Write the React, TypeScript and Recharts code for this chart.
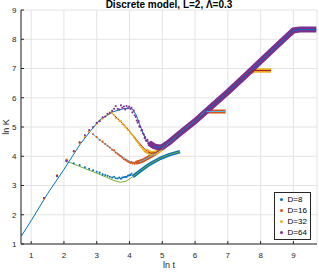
import { ComposedChart, Line, XAxis, YAxis, CartesianGrid, Legend } from "recharts";

const AXIS = "#262626";
const GRID = "#e3e3e3";
const FONT = "'Liberation Sans', Arial, sans-serif";

// matlab default colour order
const C_BLUE = "#0072BD";
const C_ORANGE = "#D95319";
const C_YELLOW = "#EDB120";
const C_PURPLE = "#7E2F8E";
const C_GREEN = "#77AC30";
const C_CYAN = "#4DBEEE";
const C_RED = "#A2142F";

const xTicks = [1, 2, 3, 4, 5, 6, 7, 8, 9];
const yTicks = [1, 2, 3, 4, 5, 6, 7, 8, 9];

// smooth curves, [ln t, ln K]
const fit8: [number, number][] = [
  [2.04, 3.82], [2.2, 3.78], [2.44, 3.67], [2.75, 3.53], [3.0, 3.42], [3.3, 3.28], [3.5, 3.18],
  [3.72, 3.11], [3.9, 3.15], [4.1, 3.3], [4.33, 3.5], [4.6, 3.72], [4.94, 3.93], [5.2, 4.05], [5.54, 4.16],
];
const fit16: [number, number][] = [
  [2.85, 4.79], [3.1, 4.55], [3.3, 4.38], [3.5, 4.22], [3.7, 4.05], [3.9, 3.9], [4.05, 3.8], [4.2, 3.77],
  [4.4, 3.85], [4.63, 3.99], [4.8, 4.1], [5.0, 4.27], [5.2, 4.45], [5.5, 4.75], [5.8, 5.03], [6.0, 5.2],
  [6.1, 5.3], [6.2, 5.42], [6.3, 5.52], [6.4, 5.53], [6.93, 5.53],
];
const fit32: [number, number][] = [
  [3.46, 5.48], [3.7, 5.22], [3.9, 5.0], [4.1, 4.72], [4.3, 4.45], [4.5, 4.2], [4.65, 4.1], [4.8, 4.12],
  [5.0, 4.28], [5.2, 4.47], [5.5, 4.75], [6.0, 5.2], [6.5, 5.7], [7.0, 6.2], [7.5, 6.72], [7.65, 6.86],
  [7.8, 6.93], [8.32, 6.93],
];
const fit64: [number, number][] = [
  [0.69, 1.25], [1.0, 1.8], [1.5, 2.72], [2.0, 3.55], [2.5, 4.42], [2.8, 4.85], [3.1, 5.25], [3.5, 5.52],
  [3.8, 5.62], [4.0, 5.65], [4.1, 5.6], [4.2, 5.42], [4.3, 5.12], [4.4, 4.82], [4.5, 4.58], [4.6, 4.45],
  [4.75, 4.34], [4.9, 4.3], [5.0, 4.32], [5.2, 4.47], [5.5, 4.75], [6.0, 5.2], [6.5, 5.7], [7.0, 6.2],
  [7.5, 6.72], [8.0, 7.25], [8.5, 7.78], [8.9, 8.2], [9.0, 8.3], [9.2, 8.33], [9.7, 8.33],
];

// individual samples where they are still apart
const pts8: [number, number][] = [
  [0.69, 1.3], [1.39, 2.55], [1.79, 3.32], [2.08, 3.85], [2.3, 3.76], [2.48, 3.7], [2.64, 3.62], [2.77, 3.57],
  [2.89, 3.52], [3.0, 3.47], [3.09, 3.44], [3.18, 3.38], [3.26, 3.36], [3.33, 3.33], [3.4, 3.3], [3.47, 3.27],
  [3.53, 3.3], [3.58, 3.25], [3.64, 3.24], [3.69, 3.27], [3.74, 3.23], [3.78, 3.27], [3.83, 3.28], [3.87, 3.3],
  [3.91, 3.29], [3.95, 3.33], [3.99, 3.35], [4.03, 3.36], [4.06, 3.4],
];
const pts16: [number, number][] = [
  [0.69, 1.32], [1.39, 2.55], [1.79, 3.34], [2.08, 3.88], [2.3, 4.16], [2.48, 4.48], [2.64, 4.66], [2.77, 4.84],
  [2.89, 4.75], [3.0, 4.66], [3.09, 4.56], [3.18, 4.5], [3.26, 4.42], [3.33, 4.36], [3.4, 4.3], [3.47, 4.22],
  [3.53, 4.2], [3.58, 4.12], [3.64, 4.08], [3.69, 4.03], [3.74, 4.0], [3.78, 3.95], [3.83, 3.9], [3.87, 3.88],
  [3.91, 3.85], [3.95, 3.82], [3.99, 3.8], [4.03, 3.77], [4.06, 3.8], [4.09, 3.75], [4.13, 3.78], [4.16, 3.74],
  [4.19, 3.8], [4.22, 3.76], [4.25, 3.82], [4.28, 3.79],
];
const pts32: [number, number][] = [
  [0.69, 1.28], [1.39, 2.53], [1.79, 3.36], [2.08, 3.9], [2.3, 4.15], [2.48, 4.44], [2.64, 4.68], [2.77, 4.86],
  [2.89, 4.98], [3.0, 5.1], [3.09, 5.22], [3.18, 5.28], [3.26, 5.36], [3.33, 5.42], [3.4, 5.5], [3.47, 5.47],
  [3.53, 5.4], [3.58, 5.3], [3.64, 5.28], [3.69, 5.2], [3.74, 5.2], [3.78, 5.1], [3.83, 5.07], [3.87, 5.0],
  [3.91, 4.96], [3.95, 4.9], [3.99, 4.88], [4.03, 4.8], [4.06, 4.76], [4.09, 4.72], [4.13, 4.65], [4.16, 4.62],
  [4.19, 4.56], [4.22, 4.52], [4.25, 4.47], [4.28, 4.45], [4.3, 4.38], [4.33, 4.36], [4.36, 4.3], [4.38, 4.3],
  [4.41, 4.24], [4.44, 4.22], [4.46, 4.17], [4.48, 4.2], [4.5, 4.14], [4.53, 4.13], [4.55, 4.16],
];
const pts64: [number, number][] = [
  [0.69, 1.3], [1.39, 2.57], [1.79, 3.33], [2.08, 3.85], [2.3, 4.18], [2.48, 4.47], [2.64, 4.72], [2.77, 4.9],
  [2.89, 5.0], [3.0, 5.14], [3.09, 5.2], [3.18, 5.33], [3.26, 5.36], [3.33, 5.45], [3.4, 5.48], [3.47, 5.55],
  [3.53, 5.62], [3.58, 5.72], [3.64, 5.62], [3.69, 5.6], [3.74, 5.74], [3.78, 5.66], [3.83, 5.7], [3.87, 5.6],
  [3.91, 5.72], [3.95, 5.64], [3.99, 5.7], [4.03, 5.62], [4.06, 5.66], [4.09, 5.5], [4.13, 5.56], [4.16, 5.4],
  [4.19, 5.34], [4.22, 5.22], [4.25, 5.15], [4.28, 5.2], [4.3, 5.02], [4.33, 5.0], [4.36, 4.88], [4.38, 4.9],
  [4.41, 4.78], [4.44, 4.74], [4.46, 4.62], [4.48, 4.66], [4.5, 4.54], [4.53, 4.52], [4.55, 4.56], [4.57, 4.44],
  [4.6, 4.47], [4.62, 4.4], [4.64, 4.43], [4.66, 4.35], [4.68, 4.4], [4.7, 4.32], [4.72, 4.37], [4.74, 4.3],
];

// where samples get so dense they read as a solid band
const denseFrom = [4.1, 4.2, 4.5, 4.6];

const toXY = (a: [number, number][]) => a.map(([x, y]) => ({ x, y }));

const series = [
  { name: "D=8", dot: C_BLUE, line: C_GREEN, fit: fit8, pts: pts8, band: 3.5 },
  { name: "D=16", dot: C_ORANGE, line: C_CYAN, fit: fit16, pts: pts16, band: 4 },
  { name: "D=32", dot: C_YELLOW, line: C_RED, fit: fit32, pts: pts32, band: 4.5 },
  { name: "D=64", dot: C_PURPLE, line: C_BLUE, fit: fit64, pts: pts64, band: 6 },
];

const BottomTick = ({ x, y, payload }: any) => (
  <g>
    <line x1={x} x2={x} y1={y} y2={y - 3} stroke={AXIS} />
    <text x={x} y={y + 13.5} textAnchor="middle" fontSize={8} fill={AXIS} fontFamily={FONT}>
      {payload.value}
    </text>
  </g>
);
const LeftTick = ({ x, y, payload }: any) => (
  <g>
    <line x1={x} x2={x + 3} y1={y} y2={y} stroke={AXIS} />
    <text x={x - 4.5} y={y + 2.9} textAnchor="end" fontSize={8} fill={AXIS} fontFamily={FONT}>
      {payload.value}
    </text>
  </g>
);
const TopTick = ({ x, y }: any) => <line x1={x} x2={x} y1={y} y2={y + 3} stroke={AXIS} />;
const RightTick = ({ x, y }: any) => <line x1={x} x2={x - 3} y1={y} y2={y} stroke={AXIS} />;

const LegendBox = () => (
  <div
    style={{
      border: `1px solid ${AXIS}`,
      background: "#fff",
      padding: "1px 3px 1px 4px",
      fontFamily: FONT,
      fontSize: 8,
      color: "#000",
      width: 28,
    }}
  >
    {series.map((s) => (
      <div key={s.name} style={{ height: 11, lineHeight: "11px", display: "flex", alignItems: "center" }}>
        <span style={{ width: 2.5, height: 2.5, borderRadius: 2, background: s.dot, margin: "0 5px 0 1px" }} />
        <span>{s.name}</span>
      </div>
    ))}
  </div>
);

export default function App() {
  return (
    <div style={{ position: "absolute", left: 0, top: 0, width: 319, height: 272, background: "#fff" }}>
      <ComposedChart width={319} height={272} margin={{ top: 10, right: 2, bottom: 0, left: 0 }}>
        <CartesianGrid stroke={GRID} />
        <XAxis
          type="number"
          dataKey="x"
          domain={[0.69, 9.72]}
          ticks={xTicks}
          allowDataOverflow
          height={28}
          stroke={AXIS}
          tickSize={0}
          tickMargin={0}
          tick={<BottomTick />}
        />
        <XAxis
          xAxisId="top"
          orientation="top"
          type="number"
          domain={[0.69, 9.72]}
          ticks={xTicks}
          allowDataOverflow
          height={0}
          stroke={AXIS}
          tickSize={0}
          tickMargin={0}
          tick={<TopTick />}
        />
        <YAxis
          type="number"
          dataKey="y"
          domain={[1, 9]}
          ticks={yTicks}
          allowDataOverflow
          width={21}
          stroke={AXIS}
          tickSize={0}
          tickMargin={0}
          tick={<LeftTick />}
        />
        <YAxis
          yAxisId="right"
          orientation="right"
          type="number"
          domain={[1, 9]}
          ticks={yTicks}
          width={0}
          stroke={AXIS}
          tickSize={0}
          tickMargin={0}
          tick={<RightTick />}
        />
        {series.map((s, i) => (
          <Line
            key={"band" + s.name}
            data={toXY(s.fit.filter(([x]) => x >= denseFrom[i]))}
            dataKey="y"
            stroke={s.dot}
            strokeWidth={s.band}
            dot={false}
            isAnimationActive={false}
            legendType="none"
          />
        ))}
        {series.map((s) => (
          <Line
            key={"pts" + s.name}
            data={toXY(s.pts)}
            dataKey="y"
            stroke="none"
            dot={(p: any) => <circle key={p.index} cx={p.cx} cy={p.cy} r={1.05} fill={s.dot} />}
            activeDot={false}
            isAnimationActive={false}
            legendType="none"
          />
        ))}
        {series.map((s) => (
          <Line
            key={"fit" + s.name}
            data={toXY(s.fit)}
            dataKey="y"
            stroke={s.line}
            strokeWidth={1}
            dot={false}
            isAnimationActive={false}
            legendType="none"
          />
        ))}
        <Legend
          layout="vertical"
          align="center"
          verticalAlign="middle"
          wrapperStyle={{ left: 274, top: 192, width: "auto", height: "auto" }}
          content={() => <LegendBox />}
        />
        <text x={169} y={8} textAnchor="middle" fontSize={10} fontWeight="bold" fill="#000" fontFamily={FONT}>
          Discrete model, L=2, Λ=0.3
        </text>
        <text x={169} y={268} textAnchor="middle" fontSize={9} fill={AXIS} fontFamily={FONT}>
          ln t
        </text>
        <text
          x={6}
          y={127}
          textAnchor="middle"
          fontSize={9}
          fill={AXIS}
          fontFamily={FONT}
          transform="rotate(-90 6 127)"
          dy={3}
        >
          ln K
        </text>
      </ComposedChart>
    </div>
  );
}
